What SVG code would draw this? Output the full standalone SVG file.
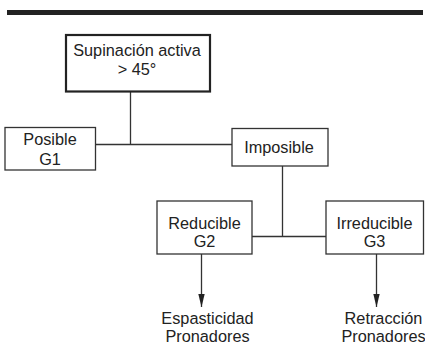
<svg xmlns="http://www.w3.org/2000/svg" width="425" height="349" viewBox="0 0 425 349">
<defs>
<style>
.box{fill:#fff;stroke:#333;stroke-width:1.3}
.main{fill:#fff;stroke:#222;stroke-width:2.2}
.ln{fill:none;stroke:#333;stroke-width:1.3}
text{font-family:"Liberation Sans",Arial,sans-serif;font-size:16.3px;fill:#222;text-anchor:middle}
</style>
<marker id="ah" viewBox="0 0 13 8" refX="13" refY="4" markerWidth="13" markerHeight="8" markerUnits="userSpaceOnUse" orient="auto">
<path d="M0,0.8 L13,4 L0,7.2 Z" fill="#222"/>
</marker>
</defs>
<rect x="7" y="10" width="416" height="5" fill="#222"/>
<g id="connectors">
<path class="ln" d="M130.5,92 V144.5 M96,144.5 H232"/>
<path class="ln" d="M282.5,166 V236.5 M252,236.5 H326"/>
<path class="ln" d="M201.5,254 V307" marker-end="url(#ah)"/>
<path class="ln" d="M376.5,254 V307" marker-end="url(#ah)"/>
</g>
<g id="supinacion">
<rect class="main" x="66" y="35" width="144" height="56.5"/>
<text x="137" y="55.5">Supinación activa</text>
<text x="137" y="74.5">&gt; 45°</text>
</g>
<g id="posible">
<rect class="box" x="5" y="127.5" width="90.5" height="42.5"/>
<text x="50" y="145">Posible</text>
<text x="50" y="165">G1</text>
</g>
<g id="imposible">
<rect class="box" x="232" y="128.5" width="96" height="37.5"/>
<text x="279" y="153">Imposible</text>
</g>
<g id="reducible">
<rect class="box" x="157" y="201" width="95" height="53"/>
<text x="204.5" y="228.5">Reducible</text>
<text x="204.5" y="247">G2</text>
</g>
<g id="irreducible">
<rect class="box" x="326" y="201" width="97.5" height="53"/>
<text x="374.5" y="228.5">Irreducible</text>
<text x="374.5" y="247">G3</text>
</g>
<g id="espasticidad">
<text x="207.5" y="324">Espasticidad</text>
<text x="207.5" y="342">Pronadores</text>
</g>
<g id="retraccion">
<text x="383.5" y="324">Retracción</text>
<text x="383.5" y="342">Pronadores</text>
</g>
</svg>
